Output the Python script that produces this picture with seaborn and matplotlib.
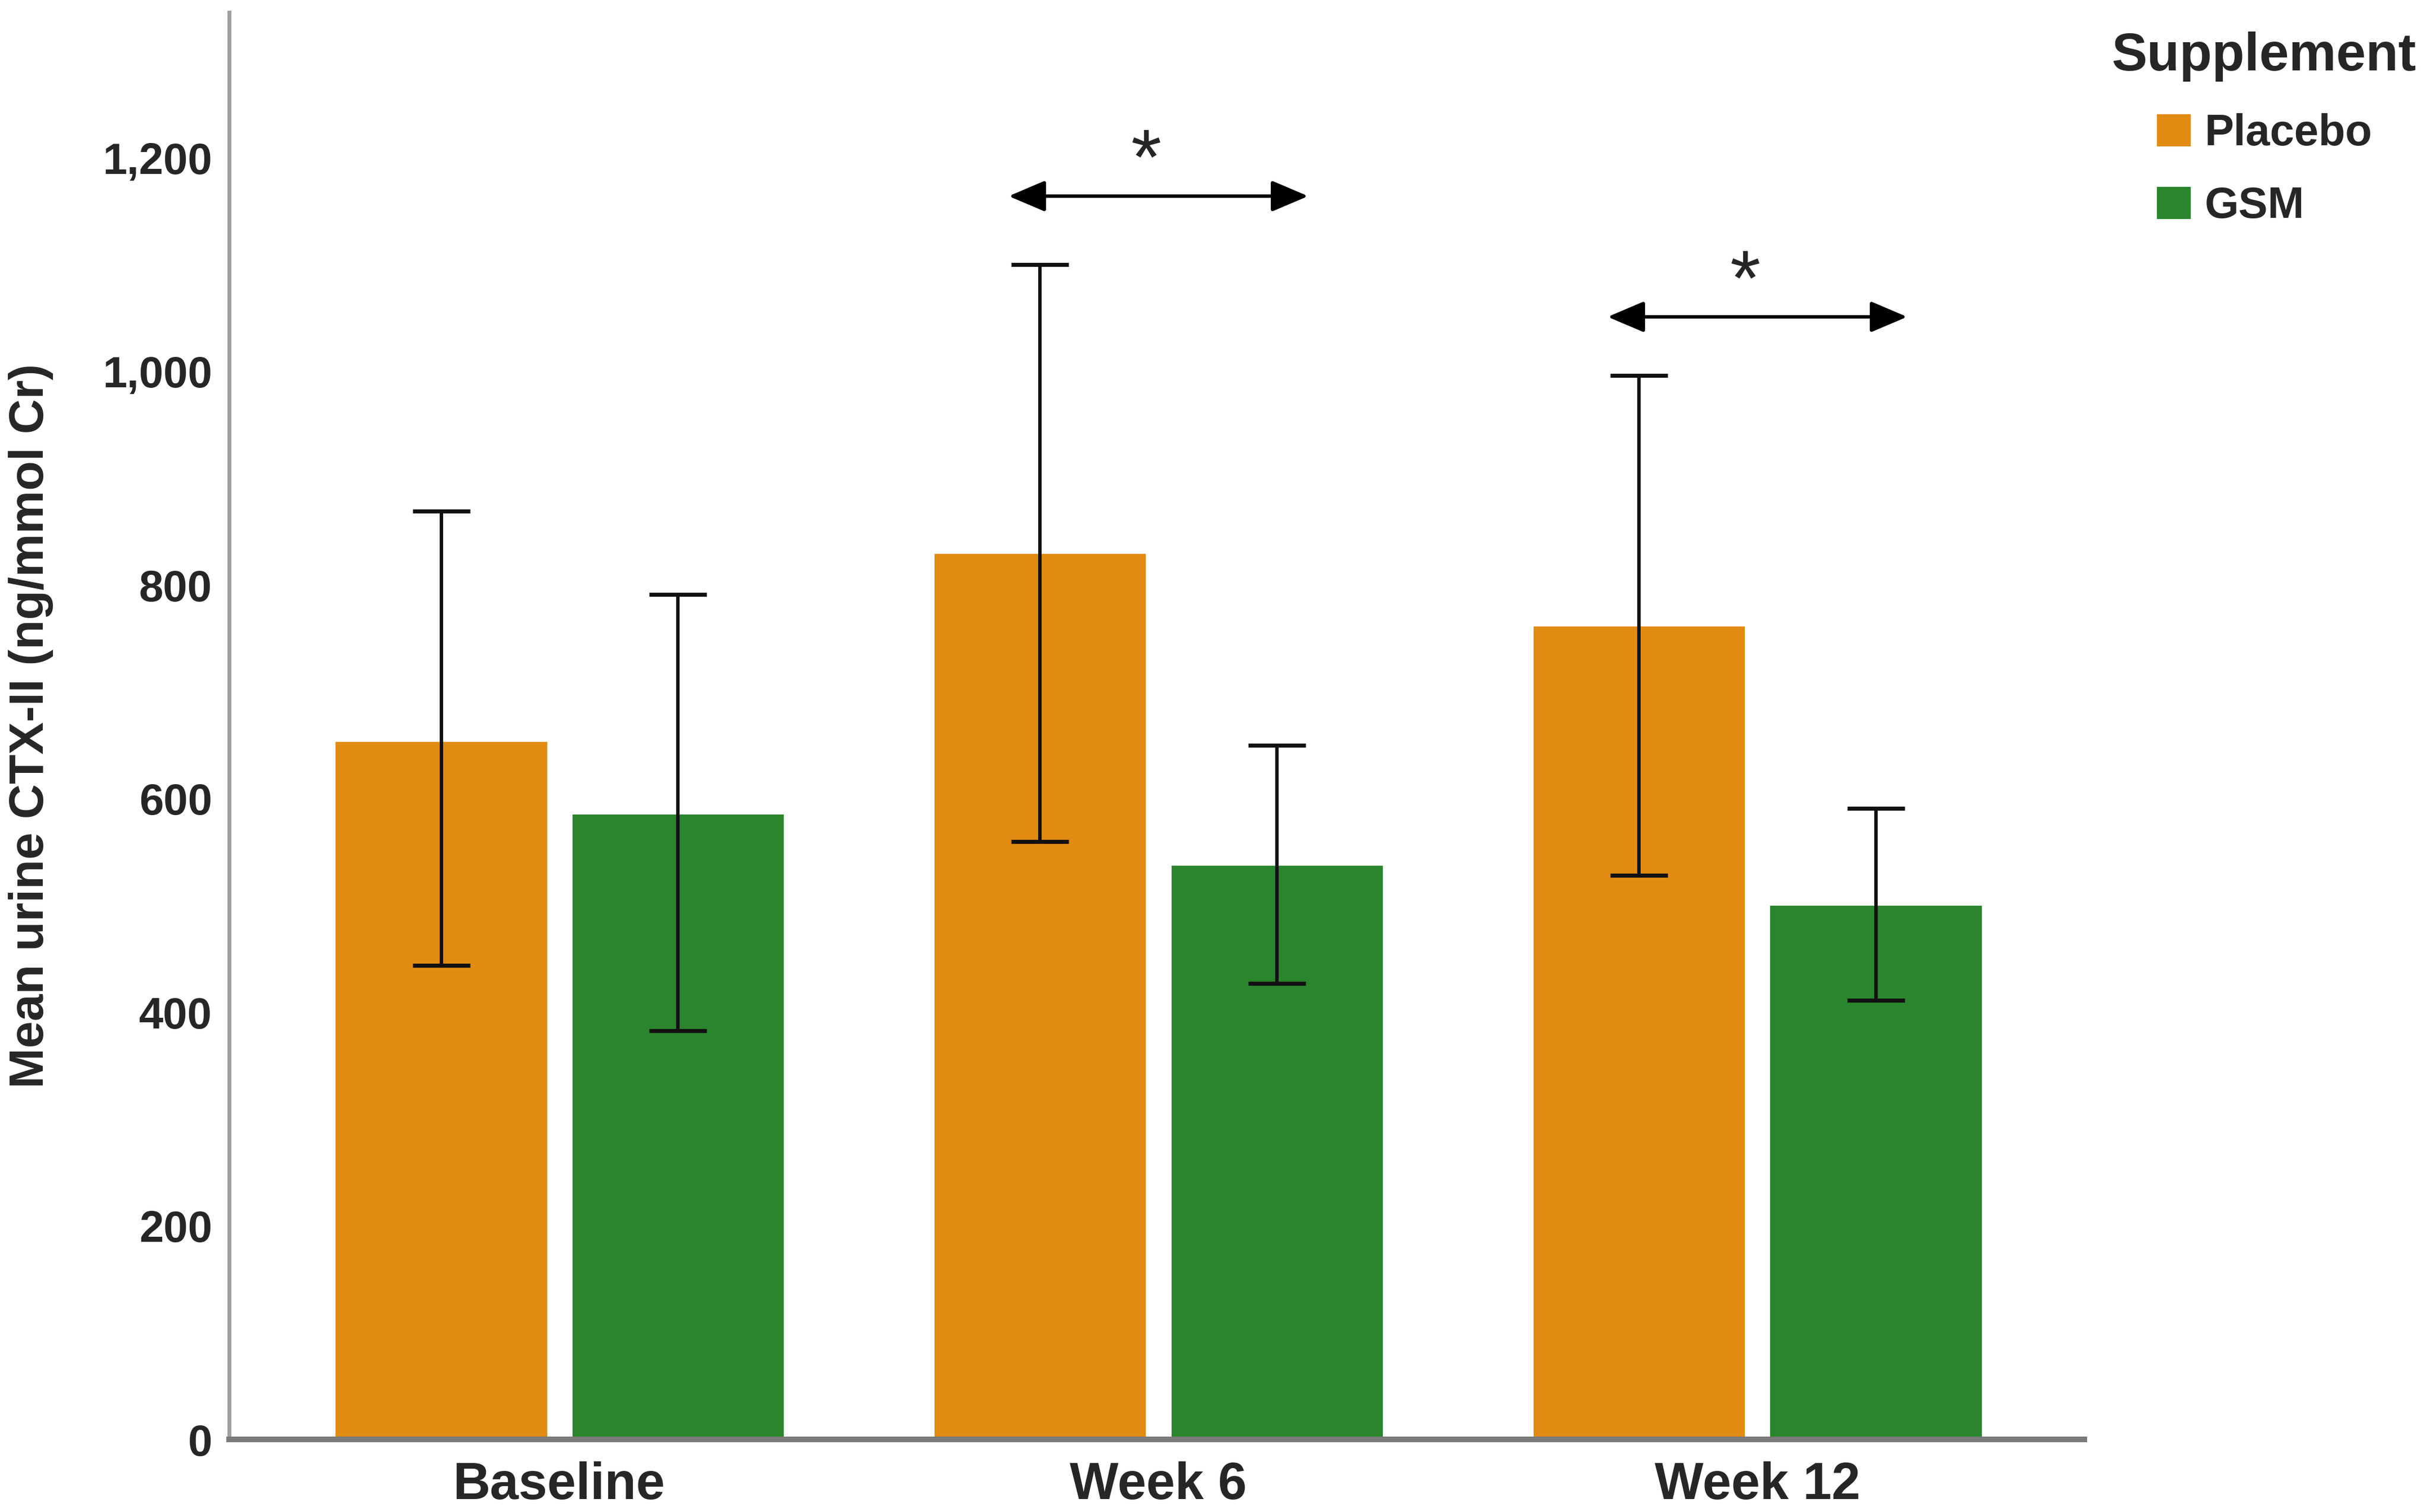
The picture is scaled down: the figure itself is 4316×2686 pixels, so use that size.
import numpy as np
import pandas as pd
import seaborn as sns
import matplotlib.pyplot as plt

# values (ng/mmol Cr)
timepoints = ["Baseline", "Week 6", "Week 12"]
supplements = ["Placebo", "GSM"]
placebo_mean = [654, 830, 762]
placebo_lo = [444, 560, 528]
placebo_hi = [869, 1100, 996]
gsm_mean = [586, 538, 501]
gsm_lo = [383, 427, 411]
gsm_hi = [791, 650, 591]
yticks = [0, 200, 400, 600, 800, 1000, 1200]
sig_timepoints = ["Week 6", "Week 12"]
sig_levels = [1164, 1051]

colors = {"Placebo": "#E18B12", "GSM": "#2A852C"}

sns.set_style("white")
plt.rcParams['font.family'] = ['Liberation Sans', 'DejaVu Sans']

fig = plt.figure(figsize=(21.58, 13.43), dpi=200)
ax = fig.add_axes([0.0944, 0.0479, 0.7634, 0.9439])

df = pd.DataFrame({
    "Timepoint": timepoints * 2,
    "Supplement": ["Placebo"] * 3 + ["GSM"] * 3,
    "CTX": placebo_mean + gsm_mean,
})
sns.barplot(data=df, x="Timepoint", y="CTX", hue="Supplement", order=timepoints,
            hue_order=supplements, palette=colors, saturation=1, width=0.79, gap=0.1,
            errorbar=None, ax=ax)

# asymmetric error bars on top of the seaborn bars
err = [(placebo_mean, placebo_lo, placebo_hi), (gsm_mean, gsm_lo, gsm_hi)]
for container, (m, lo, hi) in zip(ax.containers, err):
    xs = [p.get_x() + p.get_width() / 2 for p in container]
    m = np.array(m)
    yerr = [m - np.array(lo), np.array(hi) - m]
    ax.errorbar(xs, m, yerr=yerr, fmt='none', ecolor='#111111', elinewidth=2.2,
                capsize=18.4, capthick=2.6, zorder=5)

# significance arrows
for tp, lvl in zip(sig_timepoints, sig_levels):
    i = timepoints.index(tp)
    ax.annotate("", xy=(i + 0.25, lvl), xytext=(i - 0.25, lvl),
                arrowprops=dict(arrowstyle="<|-|>,head_length=0.8,head_width=0.34",
                                color="black", lw=2.2, shrinkA=0, shrinkB=0,
                                mutation_scale=25))
    ax.annotate("*", xy=(i - 0.02, lvl), xytext=(0, 8), textcoords="offset points",
                ha="center", va="baseline", fontsize=50)

ax.set_xlim(-0.551, 2.546)
ax.set_ylim(0, 1336)
ax.set_yticks(yticks)
ax.set_yticklabels([f"{v:,}" for v in yticks], fontsize=28, fontweight="bold")
ax.set_xticks(range(len(timepoints)))
ax.set_xticklabels(timepoints, fontsize=33, fontweight="bold")
ax.tick_params(axis="y", length=0, pad=11)
ax.tick_params(axis="x", length=0, pad=14)
ax.set_xlabel("")
ax.set_ylabel("Mean urine CTX-II (ng/mmol Cr)", fontsize=31, fontweight="bold", va="center")
ax.yaxis.set_label_coords(-0.107, 0.5)

for s in ["top", "right"]:
    ax.spines[s].set_visible(False)
ax.spines["left"].set_color("#A0A0A0")
ax.spines["left"].set_linewidth(2.5)
ax.spines["bottom"].set_color("#7A7A7A")
ax.spines["bottom"].set_linewidth(3.6)

sns.move_legend(ax, loc="upper left", bbox_to_anchor=(0.869, 0.979),
                bbox_transform=fig.transFigure, title="Supplement", frameon=False,
                prop={"weight": "bold", "size": 28},
                title_fontproperties={"weight": "bold", "size": 34},
                handlelength=0.81, handleheight=0.81, handletextpad=0.3,
                labelspacing=0.72, borderpad=0, borderaxespad=0)

fig.savefig("out.png", dpi=200)
